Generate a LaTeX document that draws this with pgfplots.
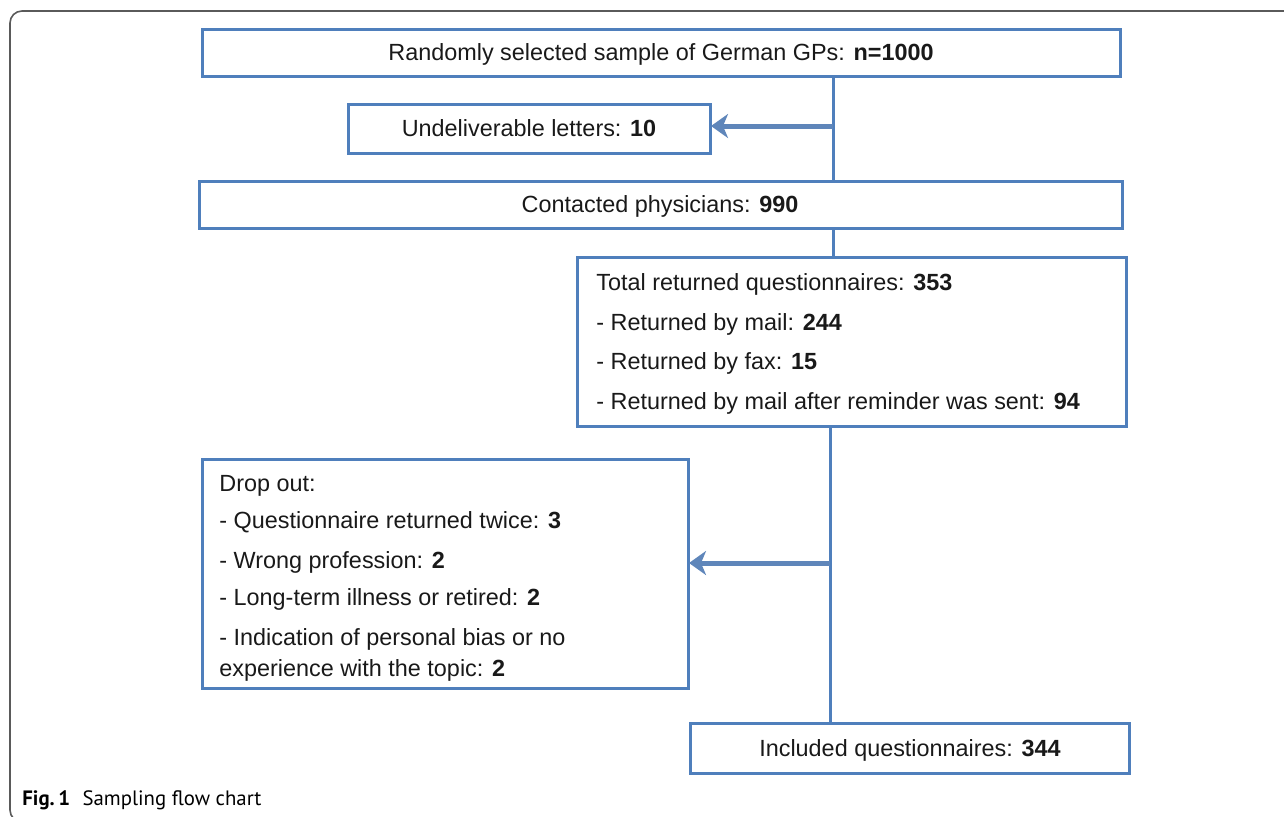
\documentclass[border=0pt]{standalone}
\usepackage{fontspec}
\setmainfont{Liberation Sans}
\newfontfamily\capfont{PT Sans}
\usepackage{pgfplots}
\pgfplotsset{compat=1.18}
\usetikzlibrary{arrows.meta}
\definecolor{boxblue}{HTML}{4F7FBC}
\definecolor{arrblue}{HTML}{5F86BA}
\definecolor{framegray}{HTML}{5A5A5A}
\begin{document}
\begin{tikzpicture}
\begin{axis}[
  scale only axis, width=642pt, height=408pt,
  xmin=0, xmax=1284, ymin=0, ymax=816, y dir=reverse,
  axis lines=none, clip=true,
  every axis plot/.append style={line join=miter, line cap=rect},
]
% outer frame
\addplot[framegray, line width=0.8pt, rounded corners=6pt, line cap=butt] coordinates {(1300,822) (10,822) (10,11) (1300,11)};
% boxes
\addplot[boxblue, line width=1.5pt] coordinates {(202,29) (1120,29) (1120,76) (202,76) (202,29)};
\addplot[boxblue, line width=1.5pt] coordinates {(348,104) (710,104) (710,153) (348,153) (348,104)};
\addplot[boxblue, line width=1.5pt] coordinates {(199,181) (1122,181) (1122,228) (199,228) (199,181)};
\addplot[boxblue, line width=1.5pt] coordinates {(577,257) (1126,257) (1126,426) (577,426) (577,257)};
\addplot[boxblue, line width=1.5pt] coordinates {(202,459) (688,459) (688,688) (202,688) (202,459)};
\addplot[boxblue, line width=1.5pt] coordinates {(690,723) (1129,723) (1129,773) (690,773) (690,723)};
% connectors
\addplot[boxblue, line width=1.5pt, line cap=butt] coordinates {(833,76) (833,181)};
\addplot[boxblue, line width=1.5pt, line cap=butt] coordinates {(833,228) (833,257)};
\addplot[boxblue, line width=1.5pt, line cap=butt] coordinates {(830,426) (830,723)};
% arrows
\addplot[arrblue, line width=2.5pt, line cap=butt, -{Stealth[length=8.5pt,width=12pt,inset=2.5pt]}] coordinates {(833,126) (711,126)};
\addplot[arrblue, line width=2.5pt, line cap=butt, -{Stealth[length=8.5pt,width=12pt,inset=2.5pt]}] coordinates {(830,563) (689,563)};
% texts
\begin{scope}[every node/.style={font=\fontsize{11.7}{14}\selectfont, inner sep=0pt, text=black!90}]
\node[anchor=base] at (axis cs:661,60.5) {Randomly selected sample of German GPs: \textbf{n=1000}};
\node[anchor=base] at (axis cs:529,136) {Undeliverable letters: \textbf{10}};
\node[anchor=base] at (axis cs:660,212) {Contacted physicians: \textbf{990}};
\node[anchor=base west] at (axis cs:596,290) {Total returned questionnaires: \textbf{353}};
\node[anchor=base west] at (axis cs:596,330) {- Returned by mail: \textbf{244}};
\node[anchor=base west] at (axis cs:596,369) {- Returned by fax: \textbf{15}};
\node[anchor=base west] at (axis cs:596,409) {- Returned by mail after reminder was sent: \textbf{94}};
\node[anchor=base west] at (axis cs:219,491) {Drop out:};
\node[anchor=base west] at (axis cs:219,528) {- Questionnaire returned twice: \textbf{3}};
\node[anchor=base west] at (axis cs:219,568) {- Wrong profession: \textbf{2}};
\node[anchor=base west] at (axis cs:219,605) {- Long-term illness or retired: \textbf{2}};
\node[anchor=base west] at (axis cs:219,645) {- Indication of personal bias or no};
\node[anchor=base west] at (axis cs:219,676) {experience with the topic: \textbf{2}};
\node[anchor=base] at (axis cs:910,756) {Included questionnaires: \textbf{344}};
\end{scope}
\node[anchor=base west, inner sep=0pt, font=\capfont\fontsize{10.4}{12}\selectfont] at (axis cs:22,805) {\textbf{Fig.\,1}\hspace{0.6em}Sampling flow chart};
\end{axis}
\pgfresetboundingbox
\path (0,0) rectangle (642pt,408pt);
\end{tikzpicture}
\end{document}
